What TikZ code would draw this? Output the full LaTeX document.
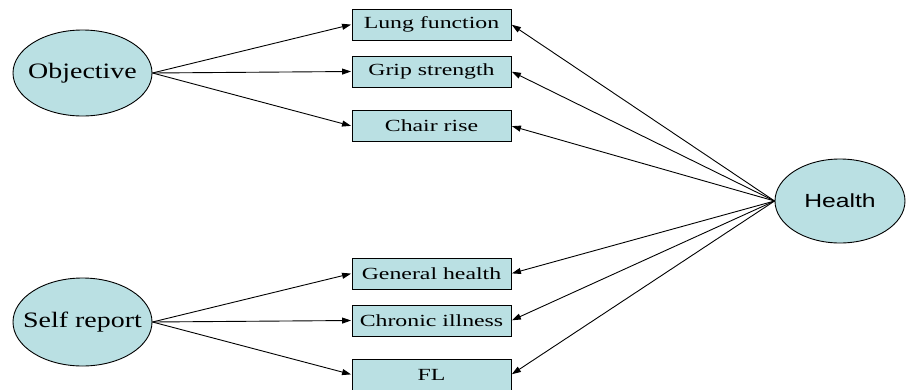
\documentclass[tikz,border=0pt]{standalone}
\usepackage{fontspec}
\setmainfont{Liberation Serif}
\newfontfamily\boxfont[FakeStretch=1.4]{Liberation Serif}
\newfontfamily\ovalfont[FakeStretch=1.27]{Liberation Serif}
\newfontfamily\hsans[FakeStretch=1.3]{Liberation Sans}
\usetikzlibrary{shapes.geometric,arrows.meta}
\definecolor{fillb}{RGB}{186,224,227}
\newcommand{\zw}[1]{\makebox[0pt]{#1}}
\tikzset{
  oval/.style={ellipse,draw=black,fill=fillb,line width=0.9pt,inner sep=0pt,font=\ovalfont\fontsize{22}{24}\selectfont},
  mbox/.style={rectangle,draw=black,fill=fillb,line width=0.9pt,minimum width=159pt,minimum height=31pt,inner sep=0pt,font=\boxfont\fontsize{17}{20}\selectfont},
  arr/.style={-{Triangle[length=9pt,width=6pt]},line width=0.9pt,shorten >=0.5pt}
}
\begin{document}
\begin{tikzpicture}[x=1pt,y=-1pt]
\useasboundingbox (0,0) rectangle (906,389);
\node[oval,minimum width=139pt,minimum height=86pt] (obj) at (82.5,73) {\zw{Objective}};
\node[oval,minimum width=139pt,minimum height=88pt] (self) at (82.5,322) {\zw{Self report}};
\node[oval,minimum width=130pt,minimum height=84pt,font=\hsans\fontsize{19}{21}\selectfont] (hl) at (840,201) {\zw{Health}};
\node[mbox] (lung) at (431.5,24.5) {Lung function};
\node[mbox] (grip) at (431.5,71.5) {Grip strength};
\node[mbox] (chair) at (431.5,126) {Chair rise};
\node[mbox] (gen) at (431.5,273.5) {General health};
\node[mbox] (chron) at (431.5,320.5) {Chronic illness};
\node[mbox] (fl) at (431.5,374.5) {FL};
\foreach \b in {lung,grip,chair}{\draw[arr] (obj.east) -- (\b.west);}
\foreach \b in {gen,chron,fl}{\draw[arr] (self.east) -- (\b.west);}
\foreach \b in {lung,grip,chair,gen,chron,fl}{\draw[arr] (hl.west) -- (\b.east);}
\end{tikzpicture}
\end{document}
